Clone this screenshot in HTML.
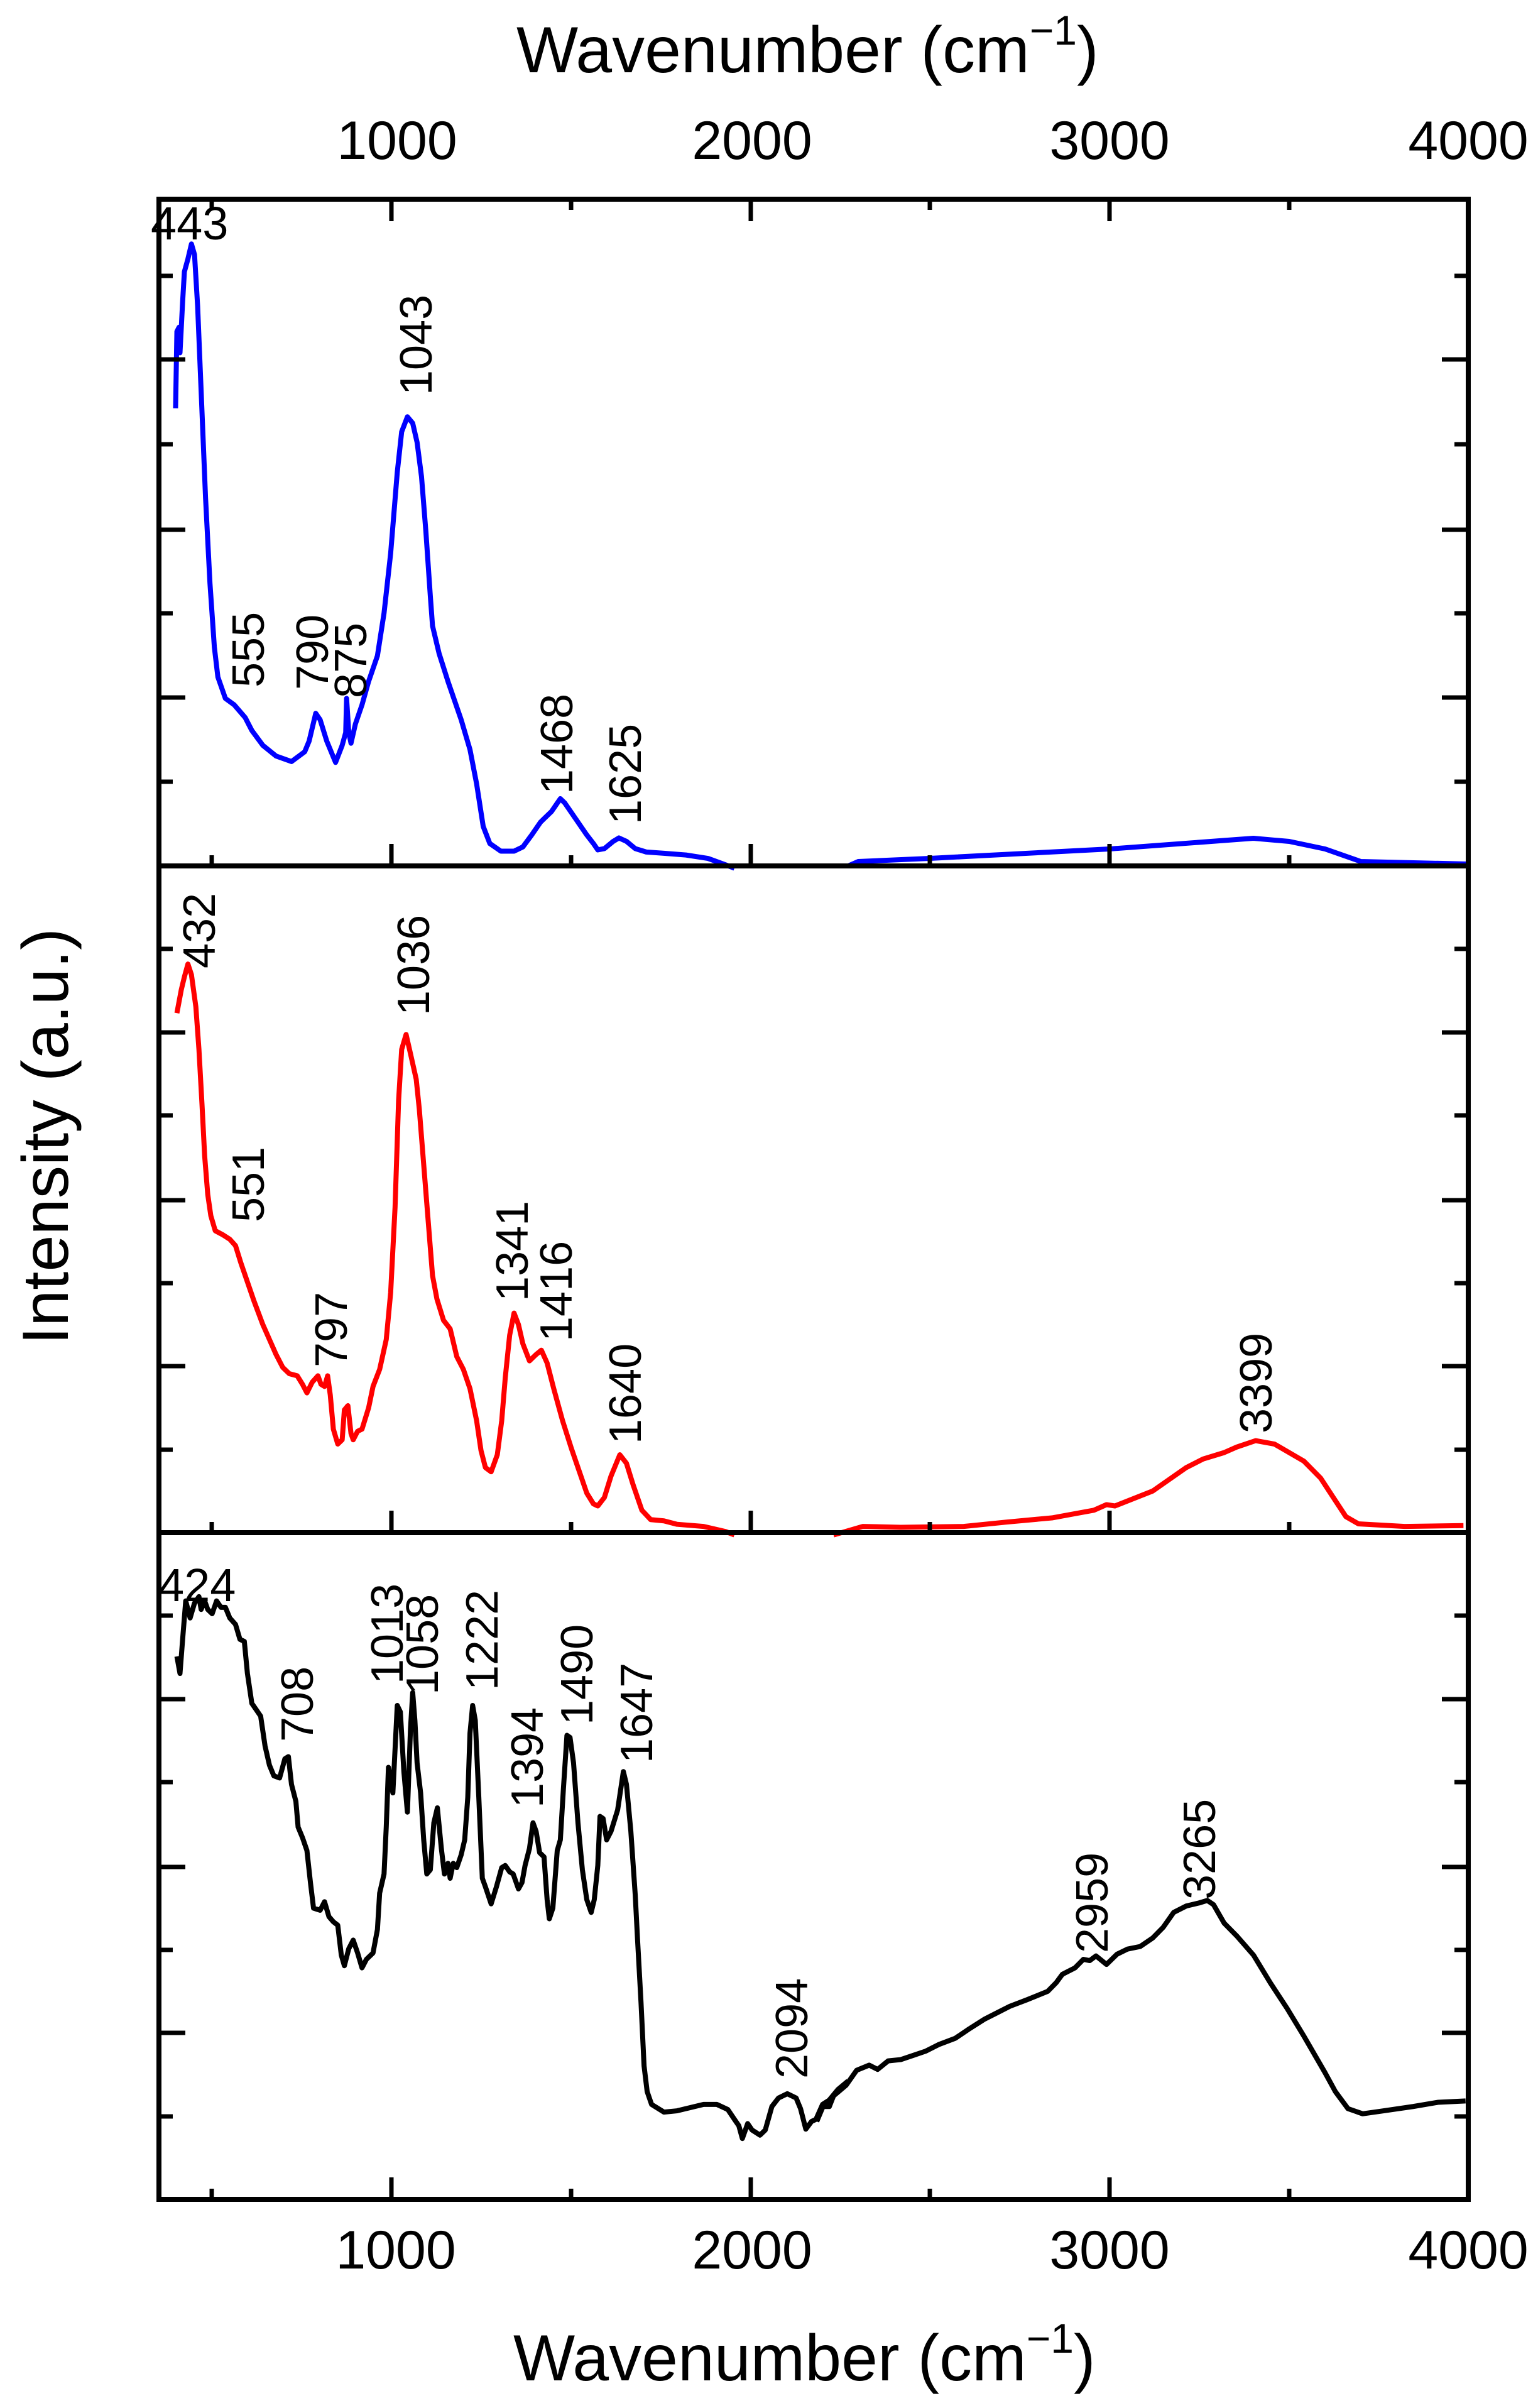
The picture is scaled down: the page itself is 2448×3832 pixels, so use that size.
<!DOCTYPE html>
<html><head><meta charset="utf-8"><style>
html,body{margin:0;padding:0;background:#fff;}
svg{display:block;}
text{font-family:"Liberation Sans",Arial,sans-serif;fill:#000;}
</style></head><body>
<svg width="2448" height="3832" viewBox="0 0 2448 3832" xmlns="http://www.w3.org/2000/svg">
<rect width="2448" height="3832" fill="#fff"/>

<!-- BLUE (top) -->
<g transform="translate(250,317) scale(0.7015,0.679)">
<polyline fill="none" stroke="#0000ff" stroke-width="8" vector-effect="non-scaling-stroke" stroke-linejoin="round" points="42,490 45,310 50,300 52,360 58,240 62,170 70,140 78,105 85,130 92,250 100,450 110,700 120,900 130,1050 138,1120 155,1170 175,1185 200,1215 215,1245 240,1280 270,1305 305,1318 335,1295 345,1270 360,1205 370,1220 385,1270 405,1320 420,1280 428,1250 430,1170 435,1250 440,1275 450,1230 465,1185 480,1130 500,1070 515,970 530,830 545,640 555,545 568,510 580,525 590,570 600,650 610,780 620,930 625,1000 640,1065 660,1130 690,1220 710,1290 725,1370 740,1470 755,1510 780,1528 810,1528 830,1518 850,1490 870,1460 880,1450 895,1435 905,1420 915,1405 925,1415 945,1445 975,1490 990,1510 1000,1525 1015,1522 1035,1505 1048,1497 1065,1505 1085,1522 1110,1530 1150,1533 1200,1537 1250,1545 1290,1560 1310,1568"/>
</g>
<polyline fill="none" stroke="#0000ff" stroke-width="8" stroke-linejoin="round" points="1350,1378 1366,1371 1480,1366 1766,1351 1995,1334 2052,1339 2109,1351 2166,1371 2337,1375"/>

<!-- RED (middle) -->
<g transform="translate(250,1378) scale(0.7015,0.679)">
<polyline fill="none" stroke="#ff0000" stroke-width="8" vector-effect="non-scaling-stroke" stroke-linejoin="round" points="45,345 55,290 62,260 70,230 78,255 88,330 95,430 102,560 108,680 115,770 122,820 132,855 150,865 165,875 178,890 190,930 205,975 220,1020 240,1075 255,1110 270,1145 285,1175 300,1190 318,1195 330,1215 340,1235 352,1210 365,1195 372,1215 380,1220 387,1195 393,1240 400,1320 410,1355 420,1345 425,1275 433,1265 440,1330 445,1345 455,1325 465,1320 480,1270 490,1220 505,1180 520,1110 530,1000 540,800 548,550 555,430 565,395 575,440 588,500 595,570 605,700 615,830 625,960 635,1015 650,1065 665,1085 680,1150 695,1180 710,1225 725,1300 735,1370 745,1410 758,1420 772,1380 782,1300 790,1200 800,1100 810,1048 820,1075 830,1120 845,1160 860,1145 872,1135 885,1165 900,1225 920,1300 940,1365 960,1425 975,1470 990,1495 1000,1500 1015,1480 1030,1430 1050,1380 1065,1400 1080,1450 1100,1510 1120,1532 1150,1535 1180,1543 1240,1548 1290,1560 1310,1568"/>
</g>
<g transform="translate(1300,1378) scale(0.6684,0.679)">
<polyline fill="none" stroke="#ff0000" stroke-width="8" vector-effect="non-scaling-stroke" stroke-linejoin="round" points="40,1568 110,1548 200,1550 350,1548 450,1538 560,1528 660,1510 690,1497 710,1500 800,1465 880,1410 920,1390 970,1375 1000,1362 1045,1347 1090,1355 1160,1395 1200,1435 1230,1480 1260,1525 1290,1542 1400,1548 1540,1546"/>
</g>

<!-- BLACK (bottom) -->
<g transform="translate(250,2439) scale(0.7015,0.679)">
<polyline fill="none" stroke="#000" stroke-width="8" vector-effect="non-scaling-stroke" stroke-linejoin="round" points="45,290 52,330 58,250 65,160 75,200 85,165 95,150 100,180 108,160 115,180 125,190 135,160 145,175 155,175 165,200 178,215 188,250 198,255 205,330 215,400 225,415 235,430 245,500 255,545 265,570 278,575 290,530 298,525 305,590 315,630 320,690 330,715 340,745 348,820 355,880 370,885 380,865 390,900 400,912 410,920 418,990 425,1015 435,975 445,955 455,985 465,1020 475,1000 490,985 500,930 505,845 515,800 520,690 525,550 535,610 545,405 552,420 560,560 568,655 575,460 580,375 585,440 590,540 598,610 605,720 612,800 620,790 628,680 636,645 645,740 652,800 660,775 665,810 672,775 680,785 690,755 698,720 705,620 710,470 716,405 722,440 730,620 738,810 745,830 758,870 770,830 782,785 790,780 800,795 808,800 820,835 828,820 835,780 845,740 853,680 860,700 868,750 878,760 885,860 890,905 898,880 908,745 915,720 922,600 930,475 937,480 945,540 955,680 965,790 975,860 985,890 992,860 1000,780 1005,665 1012,670 1020,720 1030,700 1045,650 1058,560 1065,590 1075,700 1085,850 1090,950 1098,1100 1105,1250 1112,1310 1122,1340 1150,1358 1180,1355 1200,1350 1240,1340 1270,1340 1295,1352 1310,1375 1320,1390 1328,1420 1340,1385 1350,1400 1368,1412 1380,1400 1395,1345 1410,1325 1430,1315 1450,1325 1460,1350 1472,1398 1485,1380 1495,1375 1510,1340 1525,1330 1545,1305 1568,1285"/>
</g>
<g transform="translate(1300,2439) scale(0.6684,0.679)">
<polyline fill="none" stroke="#000" stroke-width="8" vector-effect="non-scaling-stroke" stroke-linejoin="round" points="0,1380 15,1345 30,1345 40,1320 70,1295 95,1260 125,1248 145,1258 170,1238 200,1235 230,1225 260,1215 290,1200 330,1185 360,1165 400,1140 430,1125 460,1110 500,1095 550,1075 570,1055 585,1035 615,1020 635,1000 650,1003 665,992 690,1012 715,988 740,976 770,970 800,950 825,925 850,890 880,875 910,868 930,862 945,872 970,915 1000,945 1040,990 1080,1055 1120,1115 1160,1180 1210,1265 1235,1310 1265,1350 1300,1362 1350,1355 1420,1345 1480,1335 1545,1332"/>
</g>

<!-- Frame -->
<g stroke="#000" stroke-width="8" fill="none">
<rect x="253" y="317" width="2084" height="3183"/>
<line x1="253" y1="1378" x2="2337" y2="1378"/>
<line x1="253" y1="2439" x2="2337" y2="2439"/>
</g>
<!-- X ticks -->
<g stroke="#000" stroke-width="7">
<line x1="337" y1="317" x2="337" y2="334"/><line x1="623" y1="317" x2="623" y2="352"/><line x1="909" y1="317" x2="909" y2="334"/><line x1="1195" y1="317" x2="1195" y2="352"/><line x1="1480" y1="317" x2="1480" y2="334"/><line x1="1766" y1="317" x2="1766" y2="352"/><line x1="2052" y1="317" x2="2052" y2="334"/>
<line x1="337" y1="1378" x2="337" y2="1361"/><line x1="623" y1="1378" x2="623" y2="1343"/><line x1="909" y1="1378" x2="909" y2="1361"/><line x1="1195" y1="1378" x2="1195" y2="1343"/><line x1="1480" y1="1378" x2="1480" y2="1361"/><line x1="1766" y1="1378" x2="1766" y2="1343"/><line x1="2052" y1="1378" x2="2052" y2="1361"/>
<line x1="337" y1="2439" x2="337" y2="2422"/><line x1="623" y1="2439" x2="623" y2="2404"/><line x1="909" y1="2439" x2="909" y2="2422"/><line x1="1195" y1="2439" x2="1195" y2="2404"/><line x1="1480" y1="2439" x2="1480" y2="2422"/><line x1="1766" y1="2439" x2="1766" y2="2404"/><line x1="2052" y1="2439" x2="2052" y2="2422"/>
<line x1="337" y1="3500" x2="337" y2="3483"/><line x1="623" y1="3500" x2="623" y2="3465"/><line x1="909" y1="3500" x2="909" y2="3483"/><line x1="1195" y1="3500" x2="1195" y2="3465"/><line x1="1480" y1="3500" x2="1480" y2="3483"/><line x1="1766" y1="3500" x2="1766" y2="3465"/><line x1="2052" y1="3500" x2="2052" y2="3483"/>
</g>
<!-- Y ticks -->
<g stroke="#000" stroke-width="7">
<line x1="253" y1="439" x2="275" y2="439"/><line x1="253" y1="572" x2="295" y2="572"/><line x1="253" y1="707" x2="275" y2="707"/><line x1="253" y1="843" x2="295" y2="843"/><line x1="253" y1="976" x2="275" y2="976"/><line x1="253" y1="1110" x2="295" y2="1110"/><line x1="253" y1="1244" x2="275" y2="1244"/>
<line x1="2337" y1="439" x2="2315" y2="439"/><line x1="2337" y1="572" x2="2295" y2="572"/><line x1="2337" y1="707" x2="2315" y2="707"/><line x1="2337" y1="843" x2="2295" y2="843"/><line x1="2337" y1="976" x2="2315" y2="976"/><line x1="2337" y1="1110" x2="2295" y2="1110"/><line x1="2337" y1="1244" x2="2315" y2="1244"/>
<line x1="253" y1="1510" x2="275" y2="1510"/><line x1="253" y1="1643" x2="295" y2="1643"/><line x1="253" y1="1775" x2="275" y2="1775"/><line x1="253" y1="1910" x2="295" y2="1910"/><line x1="253" y1="2042" x2="275" y2="2042"/><line x1="253" y1="2174" x2="295" y2="2174"/><line x1="253" y1="2307" x2="275" y2="2307"/>
<line x1="2337" y1="1510" x2="2315" y2="1510"/><line x1="2337" y1="1643" x2="2295" y2="1643"/><line x1="2337" y1="1775" x2="2315" y2="1775"/><line x1="2337" y1="1910" x2="2295" y2="1910"/><line x1="2337" y1="2042" x2="2315" y2="2042"/><line x1="2337" y1="2174" x2="2295" y2="2174"/><line x1="2337" y1="2307" x2="2315" y2="2307"/>
<line x1="253" y1="2571" x2="275" y2="2571"/><line x1="253" y1="2704" x2="295" y2="2704"/><line x1="253" y1="2836" x2="275" y2="2836"/><line x1="253" y1="2971" x2="295" y2="2971"/><line x1="253" y1="3103" x2="275" y2="3103"/><line x1="253" y1="3235" x2="295" y2="3235"/><line x1="253" y1="3368" x2="275" y2="3368"/>
<line x1="2337" y1="2571" x2="2315" y2="2571"/><line x1="2337" y1="2704" x2="2295" y2="2704"/><line x1="2337" y1="2836" x2="2315" y2="2836"/><line x1="2337" y1="2971" x2="2295" y2="2971"/><line x1="2337" y1="3103" x2="2315" y2="3103"/><line x1="2337" y1="3235" x2="2295" y2="3235"/><line x1="2337" y1="3368" x2="2315" y2="3368"/>
</g>

<!-- Tick labels -->
<g font-size="86" text-anchor="middle">
<text x="632" y="253">1000</text><text x="1197" y="253">2000</text><text x="1766" y="253">3000</text><text x="2337" y="253">4000</text>
<text x="630" y="3610">1000</text><text x="1197" y="3610">2000</text><text x="1766" y="3610">3000</text><text x="2337" y="3610">4000</text>
</g>

<!-- Axis titles -->
<text x="822" y="115" font-size="104">Wavenumber (cm<tspan font-size="66" dy="-44">−1</tspan><tspan dy="44">)</tspan></text>
<text x="817" y="3788" font-size="104">Wavenumber (cm<tspan font-size="66" dy="-44">−1</tspan><tspan dy="44">)</tspan></text>
<text transform="translate(108,2140) rotate(-90)" font-size="104" textLength="663" lengthAdjust="spacingAndGlyphs">Intensity (a.u.)</text>

<!-- Peak labels -->
<g font-size="72">
<text x="240" y="381" font-size="74">443</text>
<text transform="translate(420,1094) rotate(-90)">555</text>
<text transform="translate(522,1098) rotate(-90)">790</text>
<text transform="translate(583,1111) rotate(-90)">875</text>
<text transform="translate(687,629) rotate(-90)">1043</text>
<text transform="translate(911,1264) rotate(-90)">1468</text>
<text transform="translate(1020,1312) rotate(-90)">1625</text>

<text transform="translate(342,1541) rotate(-90)">432</text>
<text transform="translate(683,1616) rotate(-90)">1036</text>
<text transform="translate(420,1945) rotate(-90)">551</text>
<text transform="translate(552,2176) rotate(-90)">797</text>
<text transform="translate(840,2071) rotate(-90)">1341</text>
<text transform="translate(910,2135) rotate(-90)">1416</text>
<text transform="translate(1020,2298) rotate(-90)">1640</text>
<text transform="translate(2024,2281) rotate(-90)">3399</text>

<text x="252" y="2548" font-size="74">424</text>
<text transform="translate(498,2772) rotate(-90)">708</text>
<text transform="translate(641,2680) rotate(-90)">1013</text>
<text transform="translate(697,2697) rotate(-90)">1058</text>
<text transform="translate(792,2690) rotate(-90)">1222</text>
<text transform="translate(864,2877) rotate(-90)">1394</text>
<text transform="translate(943,2745) rotate(-90)">1490</text>
<text transform="translate(1038,2806) rotate(-90)">1647</text>
<text transform="translate(1285,3308) rotate(-90)">2094</text>
<text transform="translate(1763,3108) rotate(-90)">2959</text>
<text transform="translate(1934,3023) rotate(-90)">3265</text>
</g>
</svg>
</body></html>
